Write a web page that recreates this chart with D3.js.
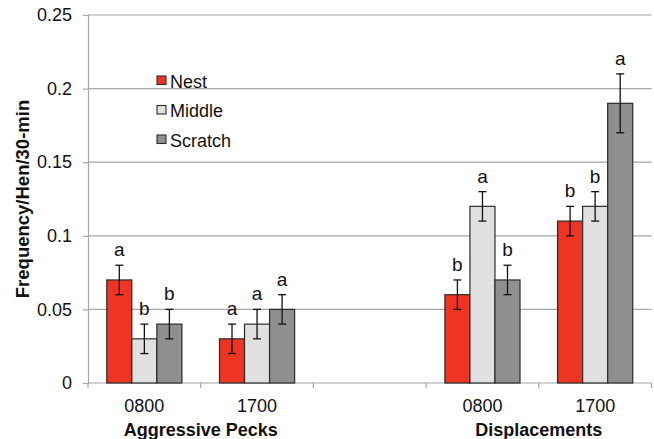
<!DOCTYPE html>
<html>
<head>
<meta charset="utf-8">
<script src="https://cdn.jsdelivr.net/npm/d3@7"></script>
<style>
  body { margin: 0; background: #fff; }
  text { font-family: "Liberation Sans", Arial, Helvetica, sans-serif; }
</style>
</head>
<body>
<script>
// categories (the empty one is the gap between the two behaviours)
var catKeys = ["ap0800", "ap1700", "gap", "d0800", "d1700"];
var tickLabels = ["0800", "1700", "", "0800", "1700"];
var groupTitles = ["Aggressive Pecks", "Displacements"];
var seriesNames = ["Nest", "Middle", "Scratch"];

var nest = [0.07, 0.03, null, 0.06, 0.11];
var middle = [0.03, 0.04, null, 0.12, 0.12];
var scratch = [0.04, 0.05, null, 0.07, 0.19];

var nestErr = [0.01, 0.01, null, 0.01, 0.01];
var middleErr = [0.01, 0.01, null, 0.01, 0.01];
var scratchErr = [0.01, 0.01, null, 0.01, 0.02];

var nestLetters = ["a", "a", "", "b", "b"];
var middleLetters = ["b", "a", "", "a", "b"];
var scratchLetters = ["b", "a", "", "b", "a"];

var yTicks = [0, 0.05, 0.1, 0.15, 0.2, 0.25];
var colors = ["#ee3524", "#e0e0e0", "#8f8f8f"];

var W = 654, H = 439;
var svg = d3.select("body").append("svg")
    .attr("width", W)
    .attr("height", H);

var y = d3.scaleLinear().domain([0, 0.25]).range([383, 15]);
var x = d3.scaleBand().domain(catKeys).range([88, 651.5]).padding(0);
var xs = d3.scaleBand().domain(seriesNames).range([0, x.bandwidth()])
    .paddingInner(0).paddingOuter(0.75);

// gridlines
svg.append("g").selectAll("line")
    .data(yTicks.slice(1))
    .enter().append("line")
    .attr("x1", 88).attr("x2", 651.5)
    .attr("y1", d => y(d)).attr("y2", d => y(d))
    .attr("stroke", "#a6a6a6")
    .attr("stroke-width", 1.2);

// y axis
var yAxis = svg.append("g")
    .attr("transform", "translate(88,0)")
    .call(d3.axisLeft(y).tickValues(yTicks).tickSize(5).tickPadding(11)
        .tickFormat(d => d === 0 ? "0" : String(+d.toFixed(2))));
yAxis.select(".domain").attr("stroke", "#a6a6a6").attr("stroke-width", 1.2);
yAxis.selectAll(".tick line").attr("stroke", "#a6a6a6").attr("stroke-width", 1.2);
yAxis.selectAll(".tick text")
    .attr("font-size", 18)
    .attr("fill", "#111")
    .style("font-family", "Liberation Sans, Arial, sans-serif");

// x axis with ticks on category boundaries
var xAxisG = svg.append("g");
xAxisG.append("line")
    .attr("x1", 88).attr("x2", 651.5)
    .attr("y1", 383).attr("y2", 383)
    .attr("stroke", "#a6a6a6").attr("stroke-width", 1.2);
var bounds = catKeys.map(k => x(k)).concat([x(catKeys[catKeys.length - 1]) + x.bandwidth()]);
xAxisG.selectAll("line.tk")
    .data(bounds)
    .enter().append("line")
    .attr("class", "tk")
    .attr("x1", d => d).attr("x2", d => d)
    .attr("y1", 383).attr("y2", 388)
    .attr("stroke", "#a6a6a6").attr("stroke-width", 1.2);
xAxisG.selectAll("text.tl")
    .data(catKeys)
    .enter().append("text")
    .attr("class", "tl")
    .attr("x", d => x(d) + x.bandwidth() / 2)
    .attr("y", 412)
    .attr("text-anchor", "middle")
    .attr("font-size", 18)
    .attr("fill", "#111")
    .text((d, i) => tickLabels[i]);

// group titles centred under each pair of categories
var groupCats = [["ap0800", "ap1700"], ["d0800", "d1700"]];
svg.selectAll("text.gt")
    .data(groupTitles)
    .enter().append("text")
    .attr("class", "gt")
    .attr("x", (d, i) => x(groupCats[i][1]))
    .attr("y", 436)
    .attr("text-anchor", "middle")
    .attr("font-size", 18)
    .attr("font-weight", "bold")
    .attr("fill", "#111")
    .text(d => d);

// y axis title
svg.append("text")
    .attr("transform", "translate(29,199) rotate(-90)")
    .attr("text-anchor", "middle")
    .attr("font-size", 18.5)
    .attr("font-weight", "bold")
    .attr("fill", "#111")
    .text("Frequency/Hen/30-min");

// bars, error bars, letters
var allVals = [nest, middle, scratch];
var allErr = [nestErr, middleErr, scratchErr];
var allLetters = [nestLetters, middleLetters, scratchLetters];

seriesNames.forEach(function (s, si) {
    var rows = catKeys.map(function (k, ci) {
        return { k: k, v: allVals[si][ci], e: allErr[si][ci], l: allLetters[si][ci] };
    }).filter(d => d.v != null);

    var g = svg.append("g");
    g.selectAll("rect")
        .data(rows)
        .enter().append("rect")
        .attr("x", d => x(d.k) + xs(s))
        .attr("y", d => y(d.v))
        .attr("width", xs.bandwidth())
        .attr("height", d => y(0) - y(d.v))
        .attr("fill", colors[si])
        .attr("stroke", "#2b2b2b")
        .attr("stroke-width", 1.2);

    var cx = d => x(d.k) + xs(s) + xs.bandwidth() / 2;
    g.selectAll("line.eb")
        .data(rows)
        .enter().append("line")
        .attr("class", "eb")
        .attr("x1", cx).attr("x2", cx)
        .attr("y1", d => y(d.v + d.e)).attr("y2", d => y(d.v - d.e))
        .attr("stroke", "#111").attr("stroke-width", 1.3);
    [1, -1].forEach(function (sign) {
        g.selectAll("line.cap" + sign)
            .data(rows)
            .enter().append("line")
            .attr("x1", d => cx(d) - 4).attr("x2", d => cx(d) + 4)
            .attr("y1", d => y(d.v + sign * d.e)).attr("y2", d => y(d.v + sign * d.e))
            .attr("stroke", "#111").attr("stroke-width", 1.3);
    });
    g.selectAll("text")
        .data(rows)
        .enter().append("text")
        .attr("x", cx)
        .attr("y", d => y(d.v + d.e) - 9)
        .attr("text-anchor", "middle")
        .attr("font-size", 19)
        .attr("fill", "#111")
        .text(d => d.l);
});

// legend
var legend = svg.append("g").attr("transform", "translate(157,76)");
seriesNames.forEach(function (s, i) {
    legend.append("rect")
        .attr("x", 0).attr("y", i * 29.5)
        .attr("width", 9).attr("height", 8.5)
        .attr("fill", colors[i])
        .attr("stroke", "#2b2b2b").attr("stroke-width", 1.1);
    legend.append("text")
        .attr("x", 13).attr("y", i * 29.5 + 11.5)
        .attr("font-size", 18)
        .attr("fill", "#111")
        .text(s);
});
</script>
</body>
</html>
